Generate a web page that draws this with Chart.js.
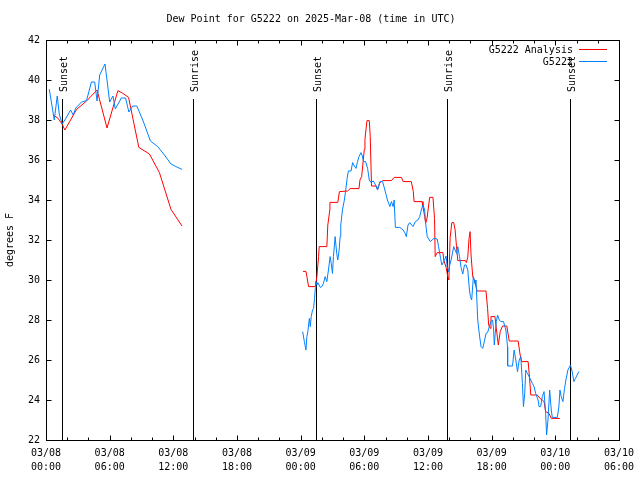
<!DOCTYPE html>
<html>
<head>
<meta charset="utf-8">
<script src="https://cdn.jsdelivr.net/npm/chart.js@4/dist/chart.umd.min.js"></script>
<style>
html,body{margin:0;padding:0;background:#fff;}
canvas{display:block;}
</style>
</head>
<body>
<canvas id="c" width="640" height="480"></canvas>
<script>
// Hours since 03/08 00:00 UTC
const obsHours = [0.31,0.78,1.06,1.25,1.53,1.78,2.32,2.56,2.81,3.35,3.82,4.28,4.59,4.81,5.06,5.56,5.75,6.0,6.31,6.53,7.1,7.5,7.81,8.18,8.56,9.12,9.84,10.53,11.16,11.78,12.25,12.82,
18,
24.19,24.35,24.5,24.59,24.68,24.82,24.91,25.0,25.12,25.22,25.31,25.38,25.43,25.53,25.62,25.85,26.0,26.15,26.31,26.47,
26.62,26.78,26.88,27.0,27.09,27.25,27.4,27.5,27.63,27.72,27.78,27.94,28.12,28.25,28.38,28.5,28.75,28.9,29.06,29.22,
29.34,29.5,29.69,29.81,29.93,30.12,30.31,30.47,30.63,30.84,31.06,31.25,31.47,31.72,31.94,32.18,32.41,32.56,32.72,32.81,
32.93,33.35,33.66,33.81,33.96,34.12,34.28,34.59,34.81,35.06,35.22,35.37,35.53,35.69,35.78,35.93,36.22,36.56,36.87,37.0,
37.19,37.31,37.56,37.71,37.81,37.94,38.03,38.18,38.43,38.56,38.69,38.81,38.97,39.12,39.28,39.44,39.59,39.75,39.91,40.0,
40.12,40.28,40.37,40.43,40.53,40.69,40.85,41.0,41.16,41.31,41.47,41.62,41.78,41.93,42.09,42.19,42.25,42.34,42.44,42.56,
42.72,42.87,43.12,43.34,43.5,43.51,43.97,44.12,44.28,44.44,44.6,44.75,44.9,45.0,45.12,45.22,45.37,45.53,45.69,45.84,
46.0,46.15,46.38,46.47,46.62,46.78,46.94,47.09,47.18,47.31,47.47,47.62,47.72,48.19,48.34,48.44,48.56,48.72,48.87,49.0,
49.19,49.43,49.59,49.75,49.9,50.06,50.22];
const obsDew = [39.54,38.0,39.2,38.3,37.8,38.0,38.5,38.25,38.6,38.9,38.97,39.9,39.9,38.95,40.25,40.8,40.0,38.9,39.2,38.55,39.1,39.1,38.4,38.7,38.7,38.0,36.95,36.67,36.25,35.8,35.67,35.53,
null,
27.42,26.92,26.5,27.17,27.42,28.08,27.67,28.17,28.5,28.58,29.08,29.58,29.92,29.75,29.87,29.63,29.67,29.83,30.17,29.92,
30.5,31.17,30.83,30.33,31.17,32.17,31.33,31.0,31.5,32.17,32.75,33.5,34.0,34.5,35.08,35.45,35.45,35.87,35.7,35.58,
35.87,36.17,36.37,36.2,35.92,35.92,35.58,35.0,34.87,34.95,34.75,34.5,34.92,34.92,34.5,34.0,33.67,33.92,33.67,34.0,
32.63,32.63,32.5,32.37,32.17,32.75,32.87,32.67,32.92,33.0,33.17,33.5,33.75,33.5,32.83,32.17,31.92,32.08,32.05,31.67,
31.08,30.75,31.0,31.2,30.67,30.42,30.7,31.0,31.67,31.5,31.33,31.67,31.17,30.63,30.3,30.75,30.75,30.5,29.5,29.17,
29.0,30.17,30.0,29.83,30.0,28.0,27.25,26.67,26.58,26.92,27.33,27.37,27.67,27.92,28.0,27.5,26.75,27.33,27.92,28.25,
28.0,27.92,27.92,27.5,26.67,25.7,25.7,26.5,26.0,25.42,26.0,26.17,24.83,23.67,24.33,25.5,25.33,25.17,25.0,24.83,
24.67,24.33,24.0,23.67,23.67,24.17,24.42,23.33,22.25,23.0,24.5,23.5,23.13,23.13,23.67,24.5,24.17,23.92,24.58,25.0,
25.5,25.75,25.42,24.92,25.08,25.25,25.42];

const anaHours = [0.68,1.15,1.53,1.78,2.88,3.82,4.81,5.75,6.78,7.25,7.78,8.75,9.75,10.69,11.78,12.82,
18,
24.22,24.5,24.59,24.75,25.38,25.53,25.69,25.75,26.47,26.56,
26.75,26.76,27.5,27.66,28.43,28.66,29.5,29.59,29.75,30.0,
30.06,30.25,30.47,30.56,30.68,31.15,31.25,31.47,31.75,32.56,
32.81,33.5,33.66,34.43,34.62,34.69,35.44,35.53,35.69,35.78,
35.91,36.16,36.47,36.62,36.68,36.87,37.41,37.5,37.71,37.87,
37.97,38.09,38.25,38.43,38.56,38.69,38.81,39.53,39.62,39.75,
39.87,39.97,40.06,40.22,40.43,40.62,41.47,41.62,41.72,41.88,
41.94,42.31,42.63,42.81,43.03,43.43,43.66,44.5,44.69,44.84,
45.44,45.59,45.69,46.31,46.56,46.78,46.94,47.09,47.41,47.62,
48.44];
const anaDew = [38.25,38.08,37.78,37.5,38.53,38.95,39.5,37.6,39.47,39.33,39.13,36.63,36.3,35.37,33.53,32.7,
null,
30.43,30.43,30.17,29.67,29.67,30.17,31.17,31.67,31.67,32.75,
33.5,33.88,33.88,34.42,34.45,34.57,34.57,35.0,35.17,36.53,
37.03,37.97,37.97,37.17,34.7,34.7,34.53,34.87,34.97,34.97,
35.13,35.13,34.92,34.92,34.42,33.92,33.92,33.67,33.17,32.83,
33.08,34.13,34.13,33.08,31.17,31.37,31.37,30.97,30.63,30.17,
30.0,32.13,32.87,32.87,32.5,31.67,30.97,30.97,30.87,31.13,
32.08,32.42,31.25,30.17,29.92,29.45,29.45,28.58,27.75,27.58,
28.17,28.17,26.75,27.42,27.7,27.7,26.95,26.95,26.25,25.92,
25.92,25.0,24.25,24.25,24.08,24.0,23.92,23.42,23.33,23.08,
23.08];

const sunHours = [1.53, 13.9, 25.43, 37.81, 49.43];
const sunLabels = ['Sunset','Sunrise','Sunset','Sunrise','Sunset'];

const xTickDates = ['03/08','03/08','03/08','03/08','03/09','03/09','03/09','03/09','03/10','03/10'];
const xTickTimes = ['00:00','06:00','12:00','18:00','00:00','06:00','12:00','18:00','00:00','06:00'];

const seriesNames = ['G5222 Analysis','G5222'];
const seriesColors = ['#ff0000','#0080ff'];

const titleText = 'Dew Point for G5222 on 2025-Mar-08 (time in UTC)';
const yTitle = 'degrees F';

const FONT = {family:'"DejaVu Sans Mono", "Liberation Mono", monospace', size:10, lineHeight:1.2, weight:'normal'};
const fontStr = '10px "DejaVu Sans Mono", "Liberation Mono", monospace';

const decor = {
  id:'decor',
  beforeDatasetsDraw(chart){
    const ctx = chart.ctx, a = chart.chartArea;
    const xs = chart.scales.x;
    ctx.save();
    ctx.strokeStyle = '#000';
    ctx.lineWidth = 1;
    ctx.font = fontStr;
    ctx.fillStyle = '#000';
    sunHours.forEach((h,i)=>{
      const x = Math.round(xs.getPixelForValue(h)) + 0.5;
      ctx.beginPath();
      ctx.moveTo(x, a.top + 59);
      ctx.lineTo(x, a.bottom);
      ctx.stroke();
      ctx.save();
      ctx.translate(x, a.top + 52);
      ctx.rotate(-Math.PI/2);
      ctx.textAlign = 'left';
      ctx.textBaseline = 'middle';
      ctx.fillText(sunLabels[i], 0, 2);
      ctx.restore();
    });
    ctx.restore();
  },
  afterDraw(chart){
    const ctx = chart.ctx, a = chart.chartArea;
    const xs = chart.scales.x, ys = chart.scales.y;
    ctx.save();
    ctx.strokeStyle = '#000';
    ctx.lineWidth = 1;
    const L = Math.round(a.left)+0.5, R = Math.round(a.right)+0.5, T = Math.round(a.top)+0.5, B = Math.round(a.bottom)+0.5;
    ctx.beginPath();
    for (let h = xs.min; h <= xs.max; h += 2) {
      const x = Math.round(xs.getPixelForValue(h)) + 0.5;
      const len = (h % 6 === 0) ? 5 : 3;
      ctx.moveTo(x, B); ctx.lineTo(x, B - len);
      ctx.moveTo(x, T); ctx.lineTo(x, T + len);
    }
    ys.ticks.forEach(t=>{
      const y = Math.round(ys.getPixelForValue(t.value)) + 0.5;
      ctx.moveTo(L, y); ctx.lineTo(L + 5, y);
      ctx.moveTo(R, y); ctx.lineTo(R - 5, y);
    });
    ctx.stroke();
    ctx.strokeRect(L, T, R - L, B - T);
    // key: text right-aligned, coloured sample line to its right
    ctx.font = fontStr;
    ctx.textAlign = 'right';
    ctx.textBaseline = 'middle';
    const keyOrder = [0, 1];
    keyOrder.forEach((si, k)=>{
      const y = Math.round(a.top + 10 + k * 12);
      ctx.fillStyle = '#000';
      ctx.fillText(seriesNames[si], a.right - 46, y);
      ctx.fillStyle = seriesColors[si];
      ctx.fillRect(Math.round(a.right - 40), y - 1, 28, 1);
    });
    ctx.restore();
  }
};

const toPoints = (hs, vs) => hs.map((h,i)=>({x:h, y:vs[i]}));

new Chart(document.getElementById('c'), {
  type:'line',
  data:{
    datasets:[
      {label:seriesNames[1], data:toPoints(obsHours, obsDew), borderColor:seriesColors[1], borderWidth:1, pointRadius:0, tension:0, spanGaps:false, order:1},
      {label:seriesNames[0], data:toPoints(anaHours, anaDew), borderColor:seriesColors[0], borderWidth:1, pointRadius:0, tension:0, spanGaps:false, order:2}
    ]
  },
  options:{
    responsive:false,
    animation:false,
    devicePixelRatio:1,
    layout:{padding:{left:0,right:18,top:0,bottom:0}},
    plugins:{
      legend:{display:false},
      tooltip:{enabled:false},
      title:{display:true, text:titleText, color:'#000', font:FONT, padding:{top:13,bottom:15}}
    },
    scales:{
      x:{
        type:'linear', min:0, max:54,
        grid:{display:false, drawTicks:false},
        border:{display:false},
        ticks:{
          stepSize:6, autoSkip:false, maxRotation:0, minRotation:0, padding:6,
          color:'#000', font:{...FONT, lineHeight:1.4},
          callback:(v)=>{ const i = Math.round(v/6); return [xTickDates[i], xTickTimes[i]]; }
        },
        afterFit:(s)=>{ s.height = 40; }
      },
      y:{
        min:22, max:42,
        grid:{display:false, drawTicks:false},
        border:{display:false},
        ticks:{stepSize:2, padding:6, color:'#000', font:FONT},
        title:{display:true, text:yTitle, color:'#000', font:FONT, padding:{top:4,bottom:0}},
        afterFit:(s)=>{ s.width = 46; }
      }
    }
  },
  plugins:[decor]
});
</script>
</body>
</html>
